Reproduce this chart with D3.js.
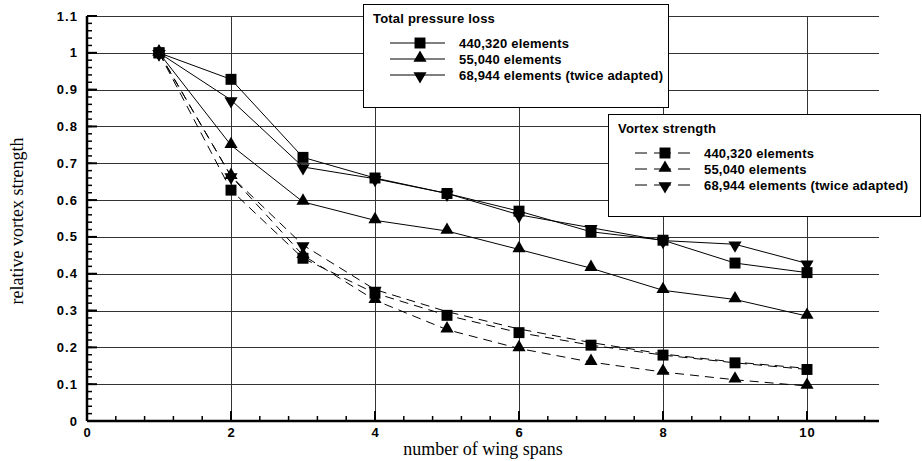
<!DOCTYPE html>
<html>
<head>
<meta charset="utf-8">
<script src="https://cdn.jsdelivr.net/npm/d3@7"></script>
<style>
  body { margin: 0; background: #fff; }
  .tick-lab { font-family: "Liberation Sans", Arial, sans-serif; font-weight: bold; font-size: 13px; letter-spacing: 1.1px; fill: #000; }
  .leg { font-family: "Liberation Sans", Arial, sans-serif; font-weight: bold; font-size: 13px; letter-spacing: 0.2px; fill: #000; }
  .ttl { font-family: "Liberation Serif", "Times New Roman", serif; font-size: 18px; fill: #000; }
</style>
</head>
<body>
<div class="chart"></div>
<script>
// relative vortex strength vs number of wing spans

// data ==========================================================
var spans = [1, 2, 3, 4, 5, 6, 7, 8, 9, 10];
var tpl440k = [1.0, 0.928, 0.716, 0.660, 0.618, 0.570, 0.514, 0.491, 0.429, 0.403];
var tpl55k  = [1.0, 0.749, 0.595, 0.545, 0.516, 0.466, 0.415, 0.355, 0.330, 0.285];
var tpl69k  = [1.0, 0.872, 0.690, 0.658, 0.618, 0.560, 0.525, 0.490, 0.480, 0.428];
var vs440k  = [1.0, 0.627, 0.442, 0.347, 0.287, 0.240, 0.206, 0.179, 0.158, 0.140];
var vs55k   = [1.0, 0.665, 0.450, 0.328, 0.248, 0.197, 0.160, 0.133, 0.112, 0.095];
var vs69k   = [1.0, 0.665, 0.478, 0.357, 0.297, 0.250, 0.213, 0.182, 0.160, 0.143];
var legendNames = ["440,320 elements", "55,040 elements", "68,944 elements (twice adapted)"];
var xTicks = [0, 2, 4, 6, 8, 10];
var yTicks = [0, 0.1, 0.2, 0.3, 0.4, 0.5, 0.6, 0.7, 0.8, 0.9, 1, 1.1];

var svgWidth = 922, svgHeight = 461;
var svg = d3.select(".chart").append("svg").attr("width", svgWidth).attr("height", svgHeight);

var x = d3.scaleLinear().domain([0, 11]).range([87, 879]);
var y = d3.scaleLinear().domain([0, 1.1]).range([421, 16]);

// grid ==========================================================
var grid = svg.append("g").attr("stroke", "#333").attr("stroke-width", 1);
grid.selectAll(".hg").data(yTicks.filter(d => d > 0)).enter().append("line")
  .attr("x1", x(0)).attr("x2", x(11))
  .attr("y1", d => Math.round(y(d)) + 0.5).attr("y2", d => Math.round(y(d)) + 0.5);
grid.selectAll(".vg").data(xTicks.filter(d => d > 0)).enter().append("line")
  .attr("y1", y(0)).attr("y2", y(1.1))
  .attr("x1", d => Math.round(x(d)) + 0.5).attr("x2", d => Math.round(x(d)) + 0.5);

// axes ==========================================================
var xMinor = d3.range(0, 11.001, 0.4).filter(v => Math.abs(v / 2 - Math.round(v / 2)) > 1e-6);
var yMinor = d3.range(0, 1.1001, 0.02);
var ax = svg.append("g").attr("stroke", "#000");
ax.selectAll(".xm").data(xMinor).enter().append("line").attr("stroke-width", 1.5)
  .attr("x1", d => x(d)).attr("x2", d => x(d)).attr("y1", y(0)).attr("y2", y(0) - 5);
ax.selectAll(".xM").data(xTicks).enter().append("line").attr("stroke-width", 2)
  .attr("x1", d => x(d)).attr("x2", d => x(d)).attr("y1", y(0)).attr("y2", y(0) - 10);
ax.selectAll(".ym").data(yMinor).enter().append("line").attr("stroke-width", 1.5)
  .attr("x1", x(0)).attr("x2", x(0) + 5).attr("y1", d => y(d)).attr("y2", d => y(d));
ax.selectAll(".yM").data(yTicks).enter().append("line").attr("stroke-width", 2)
  .attr("x1", x(0)).attr("x2", x(0) + 10).attr("y1", d => y(d)).attr("y2", d => y(d));
ax.append("line").attr("stroke-width", 2.5).attr("x1", x(0)).attr("x2", x(11)).attr("y1", y(0)).attr("y2", y(0));
ax.append("line").attr("stroke-width", 2.5).attr("x1", x(0)).attr("x2", x(0)).attr("y1", y(0)).attr("y2", y(1.1));

svg.selectAll(".xl").data(xTicks).enter().append("text").attr("class", "tick-lab")
  .attr("x", d => x(d) + 0.6).attr("y", 437).attr("text-anchor", "middle").text(d => d);
svg.selectAll(".yl").data(yTicks).enter().append("text").attr("class", "tick-lab")
  .attr("x", 78).attr("y", d => y(d) + 4.5).attr("text-anchor", "end").text(d => d);

svg.append("text").attr("class", "ttl").attr("x", x(5.5)).attr("y", 455).attr("text-anchor", "middle").text("number of wing spans");
svg.append("text").attr("class", "ttl").attr("transform", "translate(23,221) rotate(-90)").attr("text-anchor", "middle").text("relative vortex strength");

// series ========================================================
var sq = d3.symbol().type(d3.symbolSquare).size(120);
var tri = d3.symbol().type(d3.symbolTriangle).size(75);
var shapes = [sq, tri, tri];
var rotate = [0, 0, 180];
var dash = "9,6";

var series = [
  {vals: tpl440k, s: 0, dashed: false},
  {vals: tpl55k, s: 1, dashed: false},
  {vals: tpl69k, s: 2, dashed: false},
  {vals: vs440k, s: 0, dashed: true},
  {vals: vs55k, s: 1, dashed: true},
  {vals: vs69k, s: 2, dashed: true, markUpTo: 4}
];
var line = d3.line().x(d => x(d[0])).y(d => y(d[1]));

series.forEach(function(sr) {
  var pts = spans.map((v, i) => [v, sr.vals[i]]);
  svg.append("path").datum(pts).attr("d", line).attr("fill", "none").attr("stroke", "#000")
    .attr("stroke-width", 1).attr("stroke-dasharray", sr.dashed ? dash : null);
});
series.forEach(function(sr) {
  var pts = spans.map((v, i) => [v, sr.vals[i]]).filter(p => !sr.markUpTo || p[0] <= sr.markUpTo);
  svg.selectAll(null).data(pts).enter().append("path").attr("d", shapes[sr.s]).attr("fill", "#000")
    .attr("transform", d => `translate(${x(d[0])},${y(d[1]) + (sr.s === 1 ? -1 : sr.s === 2 ? 1 : 0)}) rotate(${rotate[sr.s]})`);
});

// legends =======================================================
function legend(bx, by, bw, bh, title, dashed) {
  var g = svg.append("g");
  g.append("rect").attr("x", bx + 0.5).attr("y", by + 0.5).attr("width", bw).attr("height", bh)
    .attr("fill", "#fff").attr("stroke", "#000").attr("stroke-width", 1);
  g.append("text").attr("class", "leg").attr("x", bx + 10).attr("y", by + 19).attr("letter-spacing", "0.4px").text(title);
  legendNames.forEach(function(name, i) {
    var ly = by + 39 + i * 16;
    var lx1 = bx + 27, lx2 = bx + 82, mx = bx + 57;
    if (dashed) {
      g.append("line").attr("x1", lx1).attr("x2", lx2).attr("y1", ly).attr("y2", ly).attr("stroke", "#000")
        .attr("stroke-dasharray", "12,7,17,7,12");
    } else {
      g.append("line").attr("x1", lx1).attr("x2", lx2).attr("y1", ly).attr("y2", ly).attr("stroke", "#000");
    }
    g.append("path").attr("d", shapes[i]).attr("fill", "#000")
      .attr("transform", `translate(${mx},${ly + (i === 1 ? -1 : i === 2 ? 1 : 0)}) rotate(${rotate[i]})`);
    g.append("text").attr("class", "leg").attr("x", bx + 96).attr("y", ly + 4.5).text(name);
  });
}
legend(363, 4, 305, 103, "Total pressure loss", false);
legend(608, 114, 312, 102, "Vortex strength", true);
</script>
</body>
</html>
